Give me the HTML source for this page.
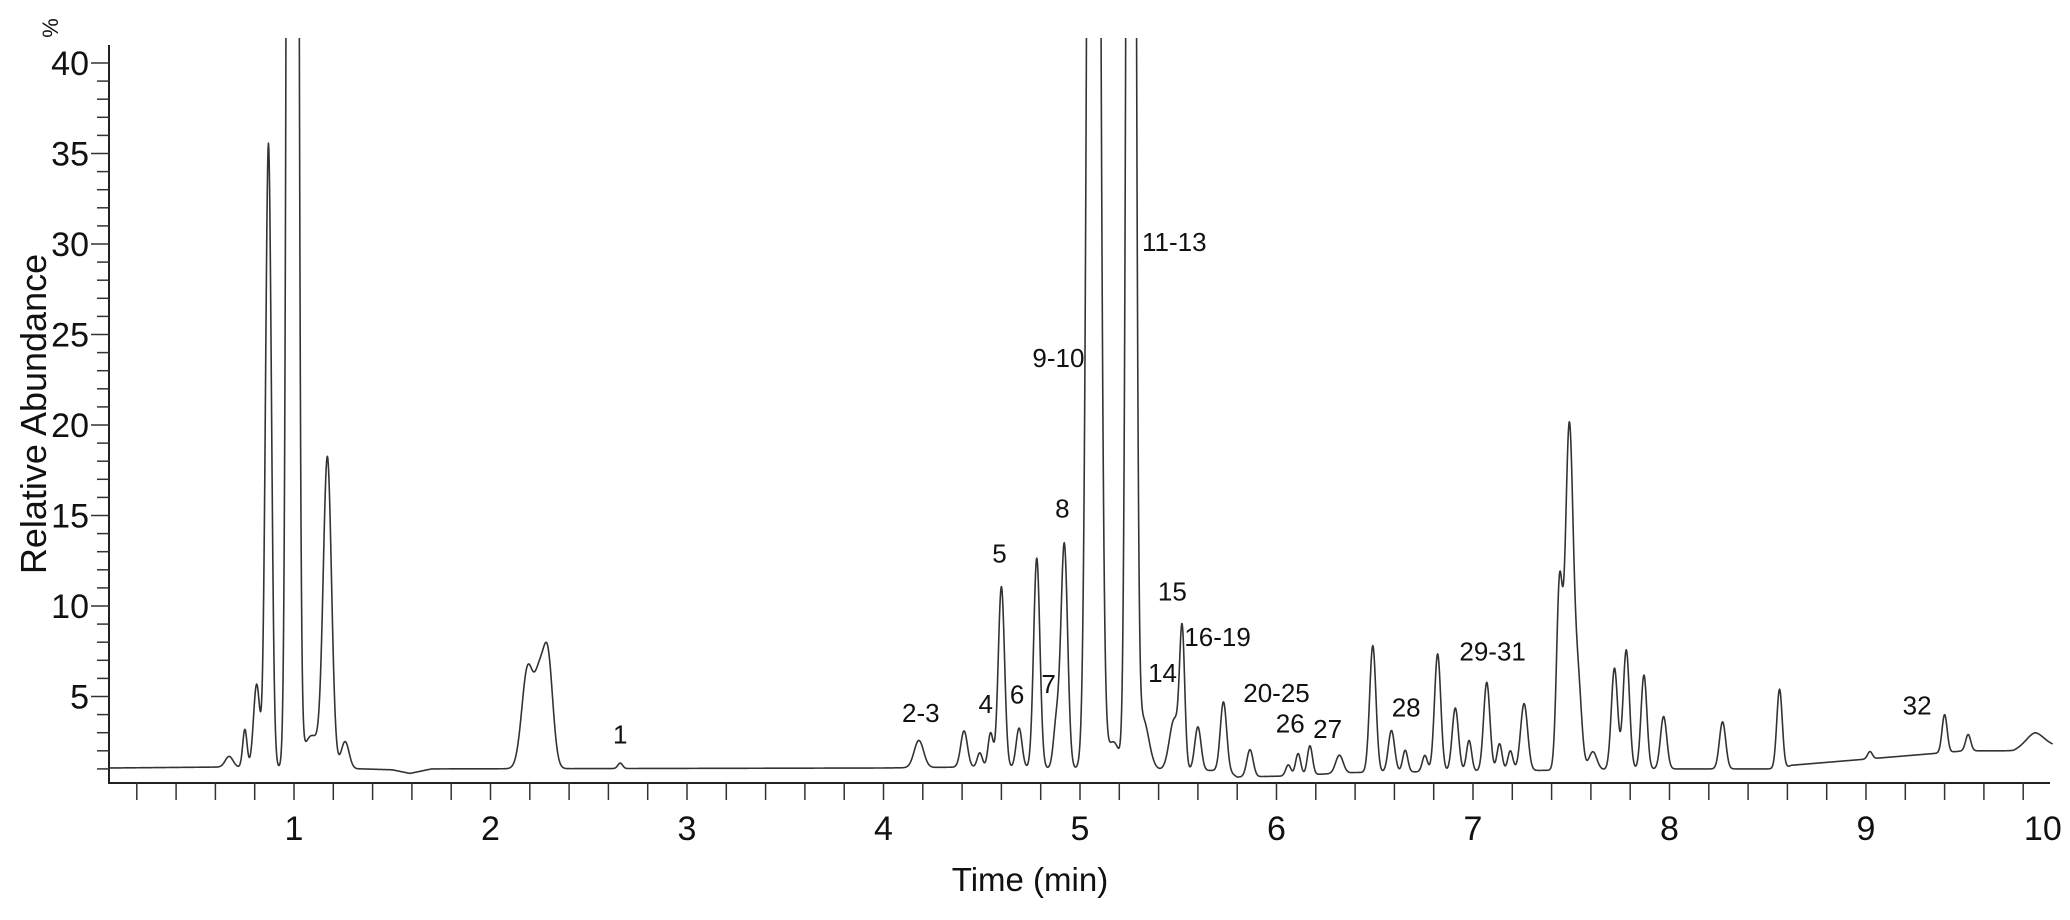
<!DOCTYPE html>
<html><head><meta charset="utf-8"><style>
html,body{margin:0;padding:0;background:#fff;}
svg{display:block;font-family:"Liberation Sans",sans-serif;}
</style></head><body>
<svg id="chart" width="2070" height="920" viewBox="0 0 2070 920" xmlns="http://www.w3.org/2000/svg">
<defs><clipPath id="plotClip"><rect x="105" y="38" width="1960" height="760"/></clipPath></defs>
<g id="axes"></g>
<g id="series" clip-path="url(#plotClip)"></g>
<g id="labels"></g>
<text x="0" y="0" transform="translate(58,28) rotate(-90)" font-size="22" text-anchor="middle" fill="#111">%</text>
<text x="0" y="0" transform="translate(46,414) rotate(-90)" font-size="36" text-anchor="middle" fill="#111">Relative Abundance</text>
<text x="1030" y="891" font-size="33" text-anchor="middle" fill="#111">Time (min)</text>
</svg>
<script>
// ---- data ----
const peakTimes   = [0.67,0.75,0.81,0.87,0.993,1.09,1.17,1.26,2.19,2.245,2.29,2.66,4.18,4.41,4.49,4.545,4.60,4.69,4.78,4.88,4.92,5.07,5.17,5.26,5.32,5.48,5.52,5.60,5.73,5.865,6.06,6.11,6.17,6.32,6.49,6.585,6.655,6.755,6.82,6.91,6.98,7.07,7.135,7.19,7.26,7.44,7.49,7.535,7.61,7.72,7.78,7.87,7.97,8.27,8.56,9.02,9.40,9.52,9.86];
const peakHeights = [0.6,2.1,4.6,34.5,300,1.8,17.0,1.5,5.6,3.4,6.4,0.3,1.5,2.0,0.8,1.9,10.0,2.2,11.6,2.5,12.4,150,1.5,150,2.8,2.8,7.3,2.4,3.8,1.5,0.6,1.2,1.6,1.0,7.0,2.3,1.2,0.9,6.5,3.5,1.7,4.9,1.5,1.1,3.7,10.0,19.0,4.6,1.0,5.6,6.6,5.2,2.9,2.6,4.4,0.4,2.1,0.9,0.6];
const peakWidths  = [0.02,0.011,0.016,0.015,0.017,0.04,0.021,0.02,0.03,0.022,0.026,0.012,0.024,0.017,0.013,0.013,0.016,0.015,0.016,0.015,0.017,0.023,0.03,0.017,0.03,0.025,0.013,0.016,0.016,0.016,0.013,0.013,0.013,0.019,0.016,0.016,0.013,0.013,0.016,0.016,0.013,0.016,0.013,0.013,0.018,0.015,0.02,0.018,0.02,0.016,0.016,0.015,0.016,0.016,0.014,0.012,0.013,0.013,0.045];
const baseTimes  = [0.06,0.6,1.35,1.5,1.59,1.7,4.0,4.4,5.75,5.8,6.02,6.4,8.0,8.58,8.62,9.4,9.5,9.75,9.86,9.95];
const baseValues = [1.05,1.1,1.0,0.95,0.75,1.0,1.05,1.1,0.9,0.55,0.6,0.8,1.0,1.0,1.2,1.9,2.0,2.0,2.4,2.3];
const yTickValues = [5,10,15,20,25,30,35,40];
const xTickValues = [1,2,3,4,5,6,7,8,9,9.9];
const xTickLabels = ["1","2","3","4","5","6","7","8","9","10"];
const labelTexts = ["1","2-3","4","5","6","7","8","9-10","11-13","14","15","16-19","20-25","26","27","28","29-31","32"];
const labelTimes = [2.66,4.19,4.52,4.59,4.68,4.84,4.91,4.89,5.48,5.42,5.47,5.70,6.00,6.07,6.26,6.66,7.10,9.26];
const labelValues= [2.4,3.6,4.1,12.4,4.6,5.2,14.9,23.2,29.6,5.8,10.3,7.8,4.7,3.0,2.7,3.9,7.0,4.0];

// ---- scales ----
const X = t => 97.5 + 196.5*t;
const Y = v => 787 - 18.1*v;
const NS='http://www.w3.org/2000/svg';
function mk(tag, attrs, parent){const e=document.createElementNS(NS,tag);for(const k in attrs)e.setAttribute(k,attrs[k]);parent.appendChild(e);return e;}

const axes=document.getElementById('axes');
const yAxis=mk('line',{x1:109,y1:45,x2:109,y2:784,stroke:'#222','stroke-width':2},axes);


const xAxis=mk('line',{x1:108,y1:783,x2:2050,y2:783,stroke:'#222','stroke-width':2},axes);


for(let v=1;v<=40;v++){
  const major=v%5===0;
  const tk=mk('line',{x1:major?91:97,y1:Y(v),x2:109,y2:Y(v),stroke:'#333','stroke-width':1.5},axes);
  
  
}
yTickValues.forEach(v=>{
  const t=mk('text',{x:89,y:Y(v)+12,'font-size':34,'text-anchor':'end',fill:'#111'},axes);
  t.textContent=String(v);
  
  
});
for(let i=1;i<=49;i++){
  const t=i*0.2;
  const tk=mk('line',{x1:X(t),y1:783,x2:X(t),y2:800,stroke:'#333','stroke-width':1.5},axes);
  
  
}
xTickValues.forEach((v,i)=>{
  const t=mk('text',{x:X(v),y:840,'font-size':34,'text-anchor':'middle',fill:'#111'},axes);
  t.textContent=xTickLabels[i];
  
  
});

// ---- series ----
function baseline(t){
  if(t<=baseTimes[0])return baseValues[0];
  for(let i=1;i<baseTimes.length;i++){
    if(t<=baseTimes[i]){const f=(t-baseTimes[i-1])/(baseTimes[i]-baseTimes[i-1]);return baseValues[i-1]+f*(baseValues[i]-baseValues[i-1]);}
  }
  return baseValues[baseValues.length-1];
}
function signal(t){
  let v=baseline(t);
  for(let i=0;i<peakTimes.length;i++){const d=(t-peakTimes[i])/peakWidths[i];if(Math.abs(d)<7)v+=peakHeights[i]*Math.exp(-0.5*d*d);}
  return v;
}
let d='';
for(let t=0.06;t<=9.95;t+=0.002){
  d+=(d?'L':'M')+X(t).toFixed(2)+' '+Y(signal(t)).toFixed(2);
}
const line=mk('path',{d:d,fill:'none',stroke:'#333','stroke-width':1.6,'stroke-linejoin':'round'},document.getElementById('series'));



const lg=document.getElementById('labels');
labelTexts.forEach((s,i)=>{
  const t=mk('text',{x:X(labelTimes[i]),y:Y(labelValues[i]),'font-size':26,'text-anchor':'middle',fill:'#111'},lg);
  t.textContent=s;
  
  
});
</script>
</body></html>
